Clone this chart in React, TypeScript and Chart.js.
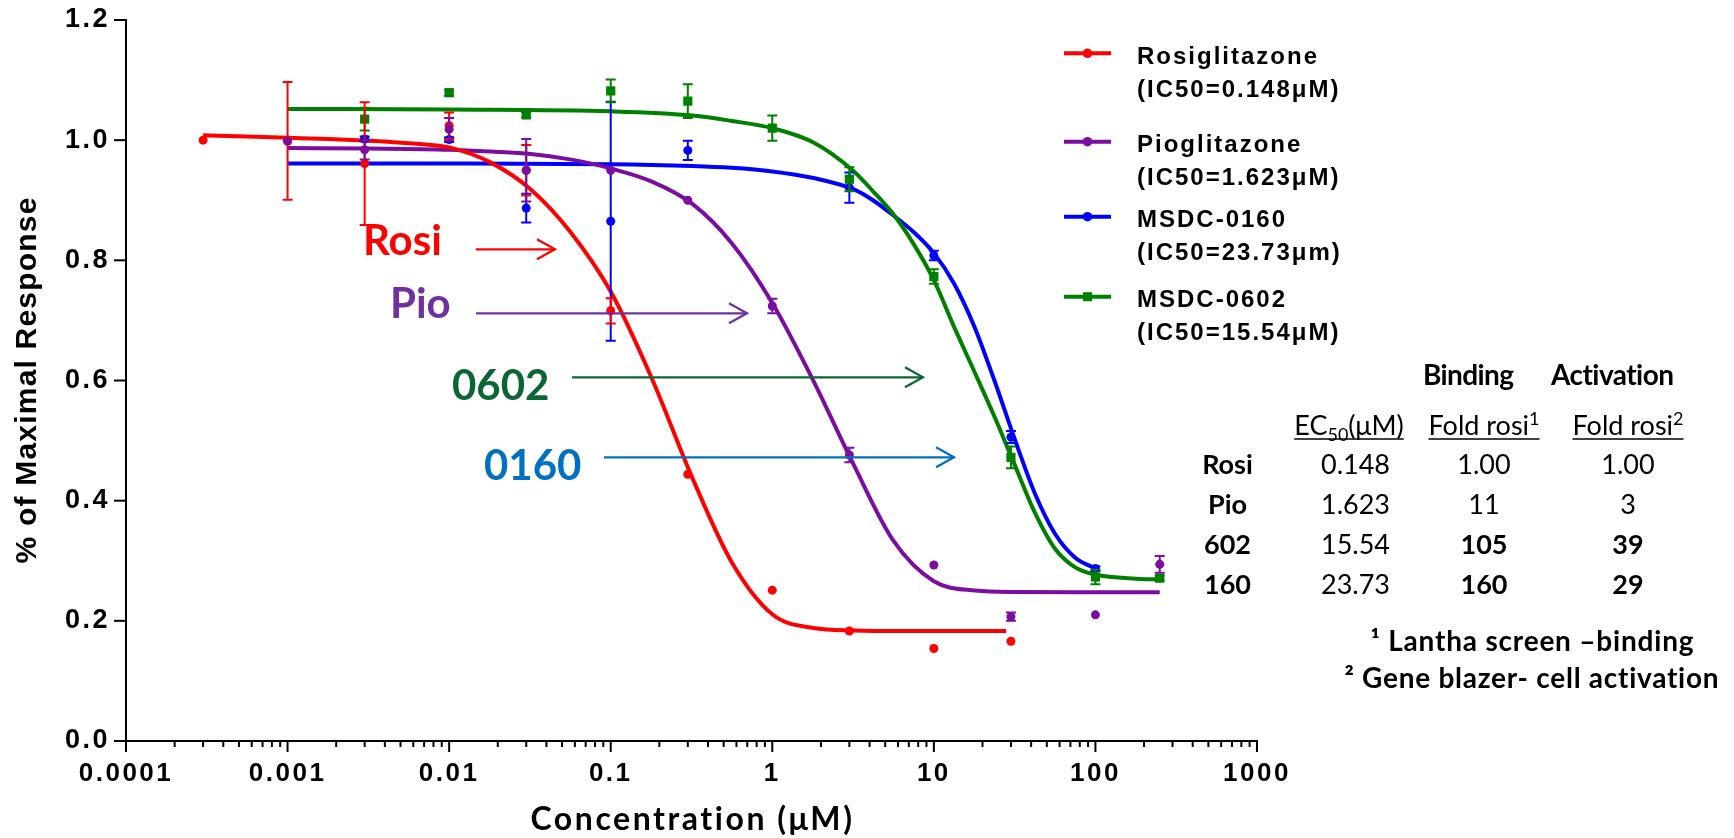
import React, { useEffect, useRef } from 'react';
import { Chart, registerables } from 'chart.js';

Chart.register(...registerables);

// ---------------- axis ticks ----------------
const xTickValues = [0.0001, 0.001, 0.01, 0.1, 1, 10, 100, 1000];
const xTickLabels = ['0.0001', '0.001', '0.01', '0.1', '1', '10', '100', '1000'];
const yTickValues = [0, 0.2, 0.4, 0.6, 0.8, 1.0, 1.2];
const yTickLabels = ['0.0', '0.2', '0.4', '0.6', '0.8', '1.0', '1.2'];

// ---------------- measured points (conc µM, response, SEM) ----------------
const rosiConc = [0.0003, 0.001, 0.003, 0.01, 0.03, 0.1, 0.3, 1, 3, 10, 30];
const rosiResp = [1.0, 0.999, 0.961, 1.024, 0.95, 0.716, 0.444, 0.251, 0.183, 0.154, 0.166];
const rosiSem = [0, 0.098, 0.102, 0.022, 0.042, 0.021, 0, 0, 0, 0, 0];

const pioConc = [0.001, 0.003, 0.01, 0.03, 0.1, 0.3, 1, 3, 10, 30, 100, 250];
const pioResp = [0.998, 0.984, 1.018, 0.95, 0.95, 0.9, 0.724, 0.476, 0.293, 0.207, 0.21, 0.294];
const pioSem = [0, 0.016, 0.019, 0.052, 0, 0, 0.012, 0.012, 0, 0.007, 0, 0.014];

const m0160Conc = [0.003, 0.01, 0.03, 0.1, 0.3, 3, 10, 30, 100];
const m0160Resp = [1.002, 1.001, 0.887, 0.865, 0.983, 0.921, 0.808, 0.506, 0.287];
const m0160Sem = [0.004, 0.004, 0.024, 0.199, 0.016, 0.025, 0.008, 0.01, 0.004];

const m0602Conc = [0.003, 0.01, 0.03, 0.1, 0.3, 1, 3, 10, 30, 100, 250];
const m0602Resp = [1.035, 1.079, 1.042, 1.082, 1.065, 1.02, 0.935, 0.773, 0.472, 0.273, 0.271];
const m0602Sem = [0.019, 0.005, 0.004, 0.019, 0.028, 0.021, 0.02, 0.012, 0.018, 0.012, 0.004];

// ---------------- fitted curves ----------------
const rosiFitConc = [0.0003, 0.00056, 0.001, 0.0018, 0.0032, 0.0056, 0.01, 0.018, 0.032, 0.056, 0.1, 0.18, 0.32, 0.56, 1, 1.8, 3.2, 5.6, 10, 28];
const rosiFitResp = [1.008, 1.006, 1.004, 1.002, 0.999, 0.995, 0.988, 0.963, 0.918, 0.848, 0.748, 0.603, 0.438, 0.298, 0.211, 0.188, 0.184, 0.183, 0.183, 0.183];

const pioFitConc = [0.001, 0.0032, 0.01, 0.018, 0.032, 0.056, 0.1, 0.18, 0.32, 0.56, 1, 1.8, 3.2, 5.6, 10, 18, 32, 100, 250];
const pioFitResp = [0.987, 0.986, 0.984, 0.981, 0.977, 0.968, 0.953, 0.931, 0.894, 0.829, 0.729, 0.599, 0.459, 0.334, 0.266, 0.2505, 0.248, 0.2475, 0.2475];

const m0160FitConc = [0.001, 0.01, 0.1, 0.32, 0.56, 1, 1.8, 3.2, 4.2, 5.6, 7.5, 10, 13.3, 17.8, 23.7, 31.6, 42.2, 56.2, 75, 100];
const m0160FitResp = [0.961, 0.961, 0.96, 0.957, 0.954, 0.948, 0.937, 0.918, 0.9, 0.875, 0.847, 0.812, 0.762, 0.69, 0.6, 0.503, 0.412, 0.345, 0.305, 0.287];

const m0602FitConc = [0.001, 0.01, 0.1, 0.32, 0.56, 1, 1.8, 3.2, 4.2, 5.6, 7.5, 10, 13.3, 17.8, 23.7, 31.6, 42.2, 56.2, 75, 100, 178, 250];
const m0602FitResp = [1.052, 1.051, 1.048, 1.041, 1.032, 1.02, 0.996, 0.948, 0.915, 0.877, 0.827, 0.767, 0.69, 0.615, 0.54, 0.46, 0.38, 0.32, 0.289, 0.277, 0.27, 0.269];

// ---------------- legend / annotations / table text ----------------
const legendNames = ['Rosiglitazone', 'Pioglitazone', 'MSDC-0160', 'MSDC-0602'];
const legendIC50 = ['(IC50=0.148\u03bcM)', '(IC50=1.623\u03bcM)', '(IC50=23.73\u03bcm)', '(IC50=15.54\u03bcM)'];
const annotationLabels = ['Rosi', 'Pio', '0602', '0160'];

const tableGroupHeaders = ['Binding', 'Activation'];
const tableRowLabels = ['Rosi', 'Pio', '602', '160'];
const tableEC50 = ['0.148', '1.623', '15.54', '23.73'];
const tableFoldBinding = ['1.00', '11', '105', '160'];
const tableFoldActivation = ['1.00', '3', '39', '29'];
const tableBoldRows = [2, 3];
const footnotes = ['\u00b9 Lantha screen \u2013binding', '\u00b2 Gene blazer- cell activation'];

// ---------------- styles ----------------
const RED = '#FF0000';
const PURPLE = '#7B0EA0';
const BLUE = '#0000FF';
const GREEN = '#008000';
const seriesColors = [RED, PURPLE, BLUE, GREEN];
const annotationColors = ['#FF0000', '#7030A0', '#0B6634', '#0070C0'];
const ARIAL = "'Liberation Sans', Arial, sans-serif";
const CAL = "Lato, 'Open Sans', sans-serif";

const toPts = (xs: number[], ys: number[]) => xs.map((x, i) => ({ x, y: ys[i] }));

function drawText(ctx: any, text: string, x: number, y: number, font: string, color: string, align: string = 'left', spacing = 0) {
  ctx.save();
  ctx.font = font;
  ctx.fillStyle = color;
  ctx.textBaseline = 'alphabetic';
  ctx.letterSpacing = '0px';
  const w = ctx.measureText(text).width + spacing * (text.length - 1);
  let left = x;
  if (align === 'center') left = x - w / 2;
  else if (align === 'right') left = x - w;
  ctx.textAlign = 'left';
  ctx.letterSpacing = spacing + 'px';
  ctx.fillText(text, left, y);
  ctx.restore();
  return w;
}

// draws text centred on cx, spread (or tightened) to a given overall width
function drawFitted(ctx: any, text: string, cx: number, y: number, font: string, color: string, width: number) {
  ctx.save();
  ctx.font = font;
  ctx.letterSpacing = '0px';
  const natural = ctx.measureText(text).width;
  ctx.restore();
  const spacing = (width - natural) / Math.max(1, text.length - 1);
  drawText(ctx, text, cx, y, font, color, 'center', spacing);
}

function drawComposite(ctx: any, parts: [string, string, number][], cx: number, baseline: number, underlineY: number, color: string) {
  ctx.save();
  ctx.letterSpacing = '0px';
  const widths = parts.map((p) => {
    ctx.font = p[1];
    return ctx.measureText(p[0]).width;
  });
  const total = widths.reduce((a, b) => a + b, 0);
  let x = cx - total / 2;
  const start = x;
  ctx.fillStyle = color;
  ctx.textAlign = 'left';
  ctx.textBaseline = 'alphabetic';
  parts.forEach((p, i) => {
    ctx.font = p[1];
    ctx.fillText(p[0], x, baseline + p[2]);
    x += widths[i];
  });
  ctx.strokeStyle = color;
  ctx.lineWidth = 1.5;
  ctx.beginPath();
  ctx.moveTo(start, underlineY);
  ctx.lineTo(start + total, underlineY);
  ctx.stroke();
  ctx.restore();
}

function drawArrow(ctx: any, x1: number, x2: number, y: number, color: string) {
  ctx.save();
  ctx.strokeStyle = color;
  ctx.lineWidth = 2.2;
  ctx.beginPath();
  ctx.moveTo(x1, y);
  ctx.lineTo(x2, y);
  ctx.stroke();
  ctx.beginPath();
  ctx.moveTo(x2 - 18, y - 10);
  ctx.lineTo(x2, y);
  ctx.lineTo(x2 - 18, y + 10);
  ctx.stroke();
  ctx.restore();
}

const letterSpacingPlugin = {
  id: 'tickSpacing',
  beforeDraw(chart: any) {
    chart.ctx.letterSpacing = '2.5px';
  },
  beforeDatasetsDraw(chart: any) {
    chart.ctx.letterSpacing = '0px';
  },
};

const errorBarPlugin = {
  id: 'errorBars',
  beforeDatasetDraw(chart: any, args: any) {
    const ds = chart.data.datasets[args.index];
    if (!ds.errors) return;
    const ctx = chart.ctx;
    const xs = chart.scales.x;
    const ys = chart.scales.y;
    ctx.save();
    ctx.strokeStyle = ds.backgroundColor;
    ctx.lineWidth = 2;
    ds.data.forEach((p: any, i: number) => {
      const e = ds.errors[i];
      if (!e) return;
      const px = xs.getPixelForValue(p.x);
      const top = ys.getPixelForValue(p.y + e);
      const bot = ys.getPixelForValue(p.y - e);
      ctx.beginPath();
      ctx.moveTo(px, top);
      ctx.lineTo(px, bot);
      ctx.moveTo(px - 5, top);
      ctx.lineTo(px + 5, top);
      ctx.moveTo(px - 5, bot);
      ctx.lineTo(px + 5, bot);
      ctx.stroke();
    });
    ctx.restore();
  },
};

const decorPlugin = {
  id: 'decor',
  afterDraw(chart: any) {
    const ctx = chart.ctx;
    const area = chart.chartArea;
    const xs = chart.scales.x;
    const ys = chart.scales.y;
    ctx.save();
    ctx.letterSpacing = '0px';
    // tick marks
    ctx.strokeStyle = '#000';
    ctx.lineWidth = 2;
    yTickValues.forEach((v) => {
      const py = ys.getPixelForValue(v);
      ctx.beginPath();
      ctx.moveTo(area.left - 12, py);
      ctx.lineTo(area.left, py);
      ctx.stroke();
    });
    for (let e = -4; e <= 3; e++) {
      for (let m = 1; m <= 9; m++) {
        const v = m * Math.pow(10, e);
        if (v > 1000 * 1.0001) break;
        const px = xs.getPixelForValue(v);
        ctx.beginPath();
        ctx.moveTo(px, area.bottom);
        ctx.lineTo(px, area.bottom + (m === 1 ? 11 : 6));
        ctx.stroke();
      }
    }
    ctx.restore();

    // axis titles
    ctx.save();
    ctx.translate(36, (area.top + area.bottom) / 2);
    ctx.rotate(-Math.PI / 2);
    drawText(ctx, '% of Maximal Response', 0, 0, `bold 30px ${ARIAL}`, '#000', 'center', 1.2);
    ctx.restore();
    drawFitted(ctx, 'Concentration (\u03bcM)', (area.left + area.right) / 2, 830, `bold 32px ${CAL}`, '#000', 322);

    // legend
    const legendLineY = [53.3, 141.7, 216.7, 296.7];
    const legendBase1 = [64, 151.7, 226.7, 306.7];
    const legendBase2 = [96.7, 185, 260, 340];
    legendNames.forEach((name, i) => {
      const c = seriesColors[i];
      ctx.save();
      ctx.strokeStyle = c;
      ctx.fillStyle = c;
      ctx.lineWidth = 4;
      ctx.beginPath();
      ctx.moveTo(1064, legendLineY[i]);
      ctx.lineTo(1111, legendLineY[i]);
      ctx.stroke();
      if (i === 3) {
        ctx.fillRect(1087.5 - 4.5, legendLineY[i] - 4.5, 9, 9);
      } else {
        ctx.beginPath();
        ctx.arc(1087.5, legendLineY[i], 4.8, 0, Math.PI * 2);
        ctx.fill();
      }
      ctx.restore();
      drawText(ctx, name, 1137, legendBase1[i], `bold 24px ${ARIAL}`, '#000', 'left', 2);
      drawText(ctx, legendIC50[i], 1137, legendBase2[i], `bold 24px ${ARIAL}`, '#000', 'left', 2);
    });

    // annotations
    const annX = [363, 390, 452, 484];
    const annBase = [255, 318, 400, 480];
    const arrX1 = [476, 476, 572, 604];
    const arrX2 = [555, 747, 923, 954];
    const arrY = [249.3, 313.3, 377.3, 457.3];
    annotationLabels.forEach((t, i) => {
      drawText(ctx, t, annX[i], annBase[i], `bold 42px ${CAL}`, annotationColors[i]);
      drawArrow(ctx, arrX1[i], arrX2[i], arrY[i], annotationColors[i]);
    });

    // table
    const colLabel = 1227.5;
    const colEC = 1355.5;
    const colF1 = 1484;
    const colF2 = 1628;
    const reg = `27px ${CAL}`;
    const bold = `bold 27px ${CAL}`;
    const small = `18px ${CAL}`;
    drawFitted(ctx, tableGroupHeaders[0], 1468.5, 385, `bold 28px ${CAL}`, '#000', 91);
    drawFitted(ctx, tableGroupHeaders[1], 1613, 385, `bold 28px ${CAL}`, '#000', 124);
    drawComposite(ctx, [['EC', reg, 0], ['50', small, 6], ['(\u03bcM)', reg, 0]], 1349, 435, 439, '#000');
    drawComposite(ctx, [['Fold rosi', reg, 0], ['1', small, -10]], colF1, 435, 439, '#000');
    drawComposite(ctx, [['Fold rosi', reg, 0], ['2', small, -10]], colF2, 435, 439, '#000');
    const rowBase = [473.5, 513.5, 553.5, 593.5];
    tableRowLabels.forEach((lab, r) => {
      const b = tableBoldRows.includes(r);
      drawText(ctx, lab, colLabel, rowBase[r], bold, '#000', 'center');
      drawText(ctx, tableEC50[r], colEC, rowBase[r], reg, '#000', 'center');
      drawText(ctx, tableFoldBinding[r], colF1, rowBase[r], b ? bold : reg, '#000', 'center');
      drawText(ctx, tableFoldActivation[r], colF2, rowBase[r], b ? bold : reg, '#000', 'center');
    });
    drawFitted(ctx, footnotes[0], 1532, 650.7, `bold 28px ${CAL}`, '#000', 323);
    drawFitted(ctx, footnotes[1], 1532, 688.3, `bold 28px ${CAL}`, '#000', 375);
  },
};

export default function App() {
  const ref = useRef<HTMLCanvasElement>(null);
  useEffect(() => {
    const canvas = ref.current;
    if (!canvas) return;
    const pointSet = (label: string, xs: number[], ys: number[], errs: number[], color: string, order: number, square = false) => ({
      label,
      data: toPts(xs, ys),
      errors: errs,
      backgroundColor: color,
      borderColor: color,
      pointBackgroundColor: color,
      pointBorderWidth: 0,
      pointRadius: square ? 6.5 : 4.5,
      pointStyle: square ? 'rect' : 'circle',
      showLine: false,
      order,
    });
    const curveSet = (label: string, xs: number[], ys: number[], color: string, order: number) => ({
      label,
      data: toPts(xs, ys),
      borderColor: color,
      backgroundColor: color,
      borderWidth: 4,
      pointRadius: 0,
      showLine: true,
      fill: false,
      cubicInterpolationMode: 'monotone',
      order,
    });
    const chart = new Chart(canvas, {
      type: 'scatter',
      data: {
        datasets: [
          pointSet('Pioglitazone', pioConc, pioResp, pioSem, PURPLE, 0),
          pointSet('Rosiglitazone', rosiConc, rosiResp, rosiSem, RED, 1),
          pointSet('MSDC-0602', m0602Conc, m0602Resp, m0602Sem, GREEN, 2, true),
          pointSet('MSDC-0160', m0160Conc, m0160Resp, m0160Sem, BLUE, 3),
          curveSet('Rosiglitazone fit', rosiFitConc, rosiFitResp, RED, 4),
          curveSet('Pioglitazone fit', pioFitConc, pioFitResp, PURPLE, 5),
          curveSet('MSDC-0602 fit', m0602FitConc, m0602FitResp, GREEN, 6),
          curveSet('MSDC-0160 fit', m0160FitConc, m0160FitResp, BLUE, 7),
        ] as any,
      },
      options: {
        responsive: false,
        animation: false,
        devicePixelRatio: 1,
        layout: { padding: { left: 0, right: 477, top: 20, bottom: 0 } },
        plugins: { legend: { display: false }, tooltip: { enabled: false } },
        events: [],
        scales: {
          x: {
            type: 'logarithmic',
            min: 0.0001,
            max: 1000,
            afterFit: (s: any) => {
              s.height = 97;
              s.paddingLeft = 0;
              s.paddingRight = 0;
            },
            afterBuildTicks: (s: any) => {
              s.ticks = xTickValues.map((v) => ({ value: v, major: true }));
            },
            ticks: {
              autoSkip: false,
              maxRotation: 0,
              padding: 17,
              color: '#000',
              font: { family: ARIAL, size: 26, weight: 'bold' },
              callback: (_v: any, i: number) => xTickLabels[i],
            },
            grid: { display: false, drawTicks: false },
            border: { display: true, color: '#000', width: 2 },
          },
          y: {
            type: 'linear',
            min: 0,
            max: 1.2,
            afterFit: (s: any) => {
              s.width = 126;
              s.paddingTop = 0;
              s.paddingBottom = 0;
            },
            afterBuildTicks: (s: any) => {
              s.ticks = yTickValues.map((v) => ({ value: v }));
            },
            ticks: {
              padding: 16,
              color: '#000',
              font: { family: ARIAL, size: 27, weight: 'bold' },
              callback: (_v: any, i: number) => yTickLabels[i],
            },
            grid: { display: false, drawTicks: false },
            border: { display: true, color: '#000', width: 2 },
          },
        },
      } as any,
      plugins: [letterSpacingPlugin, errorBarPlugin, decorPlugin] as any,
    });
    return () => chart.destroy();
  }, []);
  return (
    <div style={{ position: 'fixed', left: 0, top: 0, width: 1734, height: 838, background: '#fff' }}>
      <canvas ref={ref} width={1734} height={838} style={{ display: 'block', width: 1734, height: 838 }} />
    </div>
  );
}
